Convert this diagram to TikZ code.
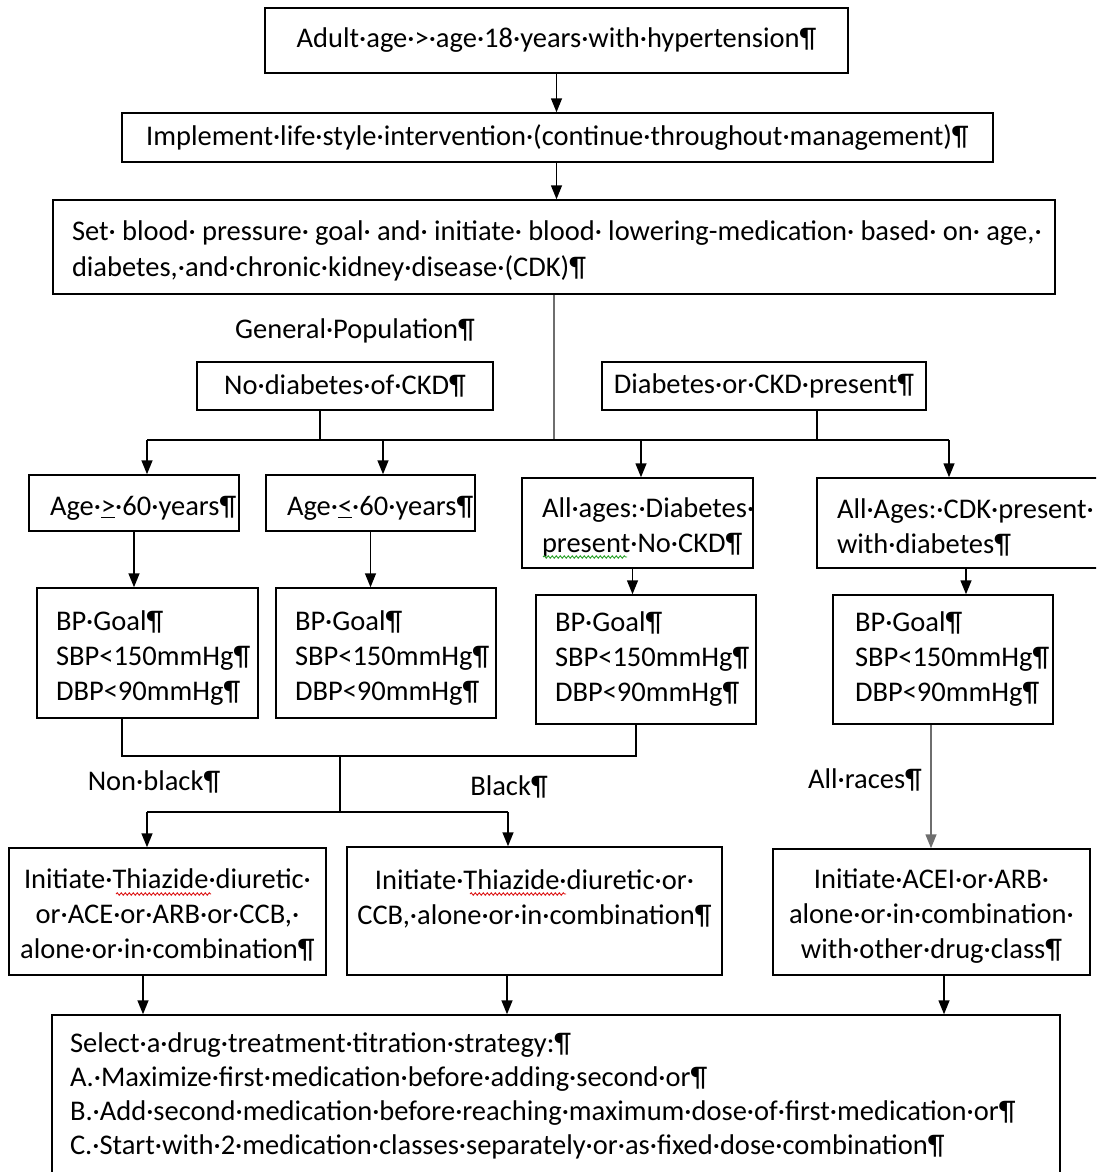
\documentclass[tikz,border=0pt]{standalone}
\usepackage{fontspec}
\setmainfont{Carlito}
\usetikzlibrary{arrows.meta,decorations.pathmorphing}
\definecolor{lgray}{RGB}{110,110,110}
\definecolor{spellred}{RGB}{220,20,20}
\definecolor{spellgreen}{RGB}{40,160,40}
\newcommand{\jsp}{\hspace{0pt plus 1fil}}
\begin{document}
\begin{tikzpicture}[x=1pt,y=-1pt,
  base/.style={font=\fontsize{28.5}{35}\selectfont, inner ysep=0pt},
  box/.style={base, draw, line width=1.5pt},
  line/.style={line width=1.5pt, draw=black},
  gline/.style={line width=1.5pt, draw=lgray},
  arr/.style={line, -{Triangle[length=14pt,width=11pt]}},
  garr/.style={gline, -{Triangle[length=14pt,width=11pt]}},
  wavy/.style={line width=0.9pt, decorate, decoration={snake, amplitude=1.2pt, segment length=4pt}}]
\clip (0,0) rectangle (1096,1172);
\useasboundingbox (0,0) rectangle (1096,1172);

% boxes
\node[box, text width=563pt, inner xsep=10pt, minimum height=65pt, align=center] (adult) at (556.5,40.5) {Adult·age·>·age·18·years·with·hypertension¶};
\node[box, text width=851pt, inner xsep=10pt, minimum height=49pt, align=center] (impl) at (557.5,137.5) {Implement·life·style·intervention·(continue·throughout·management)¶};
\node[box, font=\fontsize{28.5}{36}\selectfont, text width=982pt, inner xsep=10pt, minimum height=94pt, align=left] (set) at (554,247) {\rule{0pt}{27pt}\hspace*{9pt}\makebox[970pt][s]{Set·\jsp blood·\jsp pressure·\jsp goal·\jsp and·\jsp initiate·\jsp blood·\jsp lowering-medication·\jsp based·\jsp on·\jsp age,·}\\ \hspace*{9pt}diabetes,·and·chronic·kidney·disease·(CDK)¶};

\node[base] (genpop) at (355,331) {General·Population¶};
\node[box, text width=276pt, inner xsep=10pt, minimum height=48pt, align=center] (nodiab) at (345,386) {No·diabetes·of·CKD¶};
\node[box, text width=304pt, inner xsep=10pt, minimum height=48pt, align=center] (diab) at (764,386) {Diabetes·or·CKD·present¶};

\node[box, text width=168pt, inner xsep=21pt, minimum height=56pt, align=left] (age1) at (134,503) {\rule{0pt}{30pt}Age·\underline{>}·60·years¶};
\node[box, text width=167pt, inner xsep=21pt, minimum height=56pt, align=left] (age2) at (370.5,503) {\rule{0pt}{30pt}Age·\underline{<}·60·years¶};
\node[box, text width=191pt, inner xsep=20pt, minimum height=90pt, align=left] (age3) at (637.5,523) {\rule{0pt}{29pt}All·ages:·Diabetes·\\present·No·CKD¶};
\node[box, text width=260pt, inner xsep=20pt, minimum height=90pt, align=left] (age4) at (967,523) {\rule{0pt}{29pt}All·Ages:·CDK·present·\\with·diabetes¶};

\node[box, text width=183pt, inner xsep=19pt, minimum height=130pt, align=left] (bp1) at (147.5,653) {\rule{0pt}{29pt}BP·Goal¶\\SBP<150mmHg¶\\DBP<90mmHg¶};
\node[box, text width=182pt, inner xsep=19pt, minimum height=130pt, align=left] (bp2) at (386,653) {\rule{0pt}{29pt}BP·Goal¶\\SBP<150mmHg¶\\DBP<90mmHg¶};
\node[box, text width=182pt, inner xsep=19pt, minimum height=129pt, align=left] (bp3) at (646,659.5) {BP·Goal¶\\SBP<150mmHg¶\\DBP<90mmHg¶};
\node[box, text width=176pt, inner xsep=22pt, minimum height=129pt, align=left] (bp4) at (943,659.5) {BP·Goal¶\\SBP<150mmHg¶\\DBP<90mmHg¶};

\node[base] (nonblack) at (154,782) {Non·black¶};
\node[base] (black) at (509,787) {Black¶};
\node[base] (allraces) at (865,780) {All·races¶};

\node[box, text width=301pt, inner xsep=8pt, minimum height=127pt, align=center] (t1) at (167.5,911.5) {\rule{0pt}{27pt}Initiate·Thiazide·diuretic·\\or·ACE·or·ARB·or·CCB,·\\alone·or·in·combination¶};
\node[box, text width=359pt, inner xsep=8pt, minimum height=128pt, align=center] (t2) at (534.5,911) {\rule{0pt}{27pt}Initiate·Thiazide·diuretic·or·\\CCB,·alone·or·in·combination¶\\\mbox{}};
\node[box, text width=301pt, inner xsep=8pt, minimum height=126pt, align=center] (t3) at (931.5,912) {\rule{0pt}{27pt}Initiate·ACEI·or·ARB·\\alone·or·in·combination·\\with·other·drug·class¶};

\node[box, font=\fontsize{28.5}{34}\selectfont, text width=972pt, inner xsep=18pt, minimum height=162pt, align=left] (sel) at (556,1096) {Select·a·drug·treatment·titration·strategy:¶\\A.·Maximize·first·medication·before·adding·second·or¶\\B.·Add·second·medication·before·reaching·maximum·dose·of·first·medication·or¶\\C.·Start·with·2·medication·classes·separately·or·as·fixed·dose·combination¶};

% spell-check underlines
\draw[wavy, spellgreen] (543,557) -- (627,557);
\draw[wavy, spellred] (116,894) -- (211,894);
\draw[wavy, spellred] (470,894) -- (566,894);

% connectors
\draw[arr] (adult.south) -- (adult.south |- impl.north);
\draw[arr] (adult.south |- impl.south) -- (adult.south |- set.north);

\coordinate (busL) at (147,440);
\coordinate (busR) at (949,440);
\coordinate (b2) at (383,440);
\coordinate (b3) at (641,440);
\draw[gline] (set.south) -- (set.south |- busL);
\draw[line] ([xshift=-25pt]nodiab.south) -- ([xshift=-25pt]nodiab.south |- busL);
\draw[line] ([xshift=53pt]diab.south) -- ([xshift=53pt]diab.south |- busL);
\draw[line] (busL) -- (busR);
\draw[arr] (busL) -- (busL |- age1.north);
\draw[arr] (b2) -- (b2 |- age2.north);
\draw[arr] (b3) -- (b3 |- age3.north);
\draw[arr] (busR) -- (busR |- age4.north);

\draw[arr] (age1.south) -- (age1.south |- bp1.north);
\draw[arr] (age2.south) -- (age2.south |- bp2.north);
\draw[arr] ([xshift=-5pt]age3.south) -- ([xshift=-5pt]age3.south |- bp3.north);
\draw[arr] ([xshift=-1pt]age4.south) -- ([xshift=-1pt]age4.south |- bp4.north);

\coordinate (jm) at (340,755);
\coordinate (c2L) at (147,812);
\coordinate (c2R) at (508,812);
\draw[line] ([xshift=-25.5pt]bp1.south) -- ++(0,37) -| ([xshift=-10pt]bp3.south);
\draw[line] (jm) -- (jm |- c2L);
\draw[line] (c2L) -- (c2R);
\draw[arr] (c2L) -- (c2L |- t1.north);
\draw[arr] (c2R) -- (c2R |- t2.north);
\draw[garr] ([xshift=-12pt]bp4.south) -- ([xshift=-12pt]bp4.south |- t3.north);

\draw[arr] ([xshift=-24.5pt]t1.south) -- ([xshift=-24.5pt]t1.south |- sel.north);
\draw[arr] ([xshift=-27.5pt]t2.south) -- ([xshift=-27.5pt]t2.south |- sel.north);
\draw[arr] ([xshift=12.5pt]t3.south) -- ([xshift=12.5pt]t3.south |- sel.north);
\end{tikzpicture}
\end{document}
